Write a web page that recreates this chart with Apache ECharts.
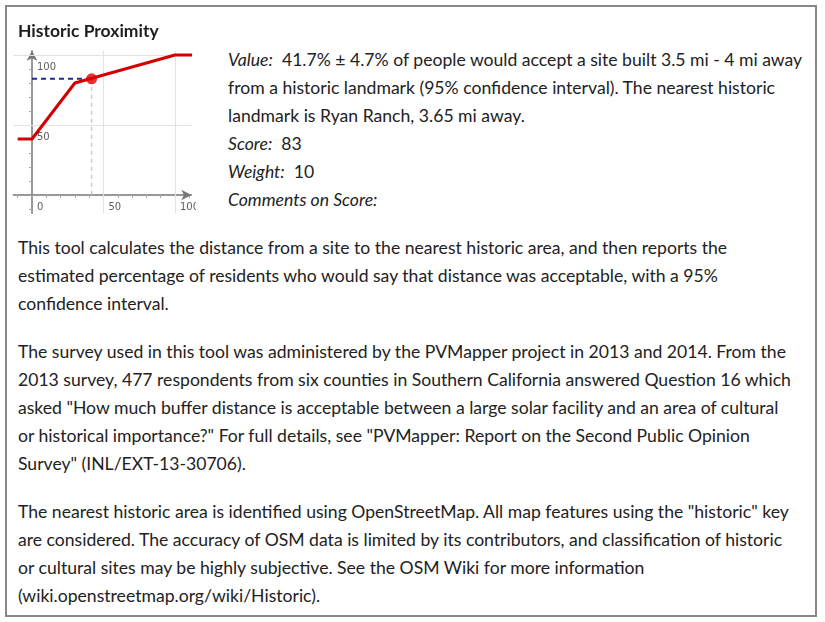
<!DOCTYPE html>
<html>
<head>
<meta charset="utf-8">
<script src="https://cdn.jsdelivr.net/npm/echarts@6.0.0/dist/echarts.min.js"></script>
<style>
  html, body { margin: 0; padding: 0; background: #fff; }
  body { width: 825px; height: 622px; position: relative; overflow: hidden;
         font-family: Lato, "Noto Sans", sans-serif; color: #222; }
  .frame { position: absolute; left: 5px; top: 5px; width: 812px; height: 612px;
           border: 2px solid #888; box-sizing: border-box; }
  #chart { position: absolute; left: 0; top: 0; width: 196px; height: 222px; }
  .title { position: absolute; left: 18px; top: 20px; font-size: 17.5px; font-weight: bold;
           line-height: 22px; color: #1e1e1e; }
  .txt { position: absolute; font-size: 17.6px; line-height: 28px; white-space: nowrap; }
  .info { left: 228px; top: 46px; }
  .p1 { left: 18px; top: 234px; }
  .p2 { left: 18px; top: 338px; }
  .p3 { left: 18px; top: 498px; }
</style>
</head>
<body>
<div class="frame"></div>
<div id="chart"></div>
<div class="title">Historic Proximity</div>
<div class="txt info" id="info"></div>
<div class="txt p1">This tool calculates the distance from a site to the nearest historic area, and then reports the<br>estimated percentage of residents who would say that distance was acceptable, with a 95%<br>confidence interval.</div>
<div class="txt p2">The survey used in this tool was administered by the PVMapper project in 2013 and 2014. From the<br>2013 survey, 477 respondents from six counties in Southern California answered Question 16 which<br>asked "How much buffer distance is acceptable between a large solar facility and an area of cultural<br>or historical importance?" For full details, see "PVMapper: Report on the Second Public Opinion<br>Survey" (INL/EXT-13-30706).</div>
<div class="txt p3">The nearest historic area is identified using OpenStreetMap. All map features using the "historic" key<br>are considered. The accuracy of OSM data is limited by its contributors, and classification of historic<br>or cultural sites may be highly subjective. See the OSM Wiki for more information<br>(wiki.openstreetmap.org/wiki/Historic).</div>
<script>
"use strict";
// score curve: % accepting -> score
var curveX = [-10, 0, 30, 100, 112];
var curveY = [40, 40, 80, 100, 100];
var valuePct = 41.7;
var valueErr = 4.7;
var score = 83;
var weight = 10;
var xTickLabels = [0, 50, 100];
var yTickLabels = [50, 100];
var gridValues = [50, 100];
var minorTicks = [-10, 0, 10, 20, 30, 40, 50, 60, 70, 80, 90, 100, 110];

document.getElementById("info").innerHTML =
    "<i>Value:</i>&nbsp; " + valuePct + "% ± " + valueErr + "% of people would accept a site built 3.5 mi - 4 mi away<br>" +
    "from a historic landmark (95% confidence interval). The nearest historic<br>" +
    "landmark is Ryan Ranch, 3.65 mi away.<br>" +
    "<i>Score:</i>&nbsp; " + score + "<br>" +
    "<i>Weight:</i>&nbsp; " + weight + "<br>" +
    "<i>Comments on Score:</i>";

var curveData = curveX.map(function (x, i) { return [x, curveY[i]]; });
var gridMarks = [];
gridValues.forEach(function (v) { gridMarks.push({xAxis: v}); gridMarks.push({yAxis: v}); });

var tickLabelStyle = { show: true, formatter: "{b}", fontSize: 10, color: "#333", fontFamily: "DejaVu Sans" };

var chart = echarts.init(document.getElementById("chart"));
chart.setOption({
    animation: false,
    grid: { left: 13.4, top: 50.8, width: 178, height: 162.4 },
    xAxis: {
        type: "value", min: -13, max: 111.5,
        axisLine: { onZero: true, symbol: ["none", "arrow"], symbolSize: [8, 10],
                    lineStyle: { color: "#777", width: 1.5 } },
        axisTick: { customValues: minorTicks, length: 3, lineStyle: { color: "#aaa" } },
        axisLabel: { show: false },
        splitLine: { show: false }
    },
    yAxis: {
        type: "value", min: -13, max: 103,
        axisLine: { onZero: true, symbol: ["none", "arrow"], symbolSize: [8, 10],
                    lineStyle: { color: "#777", width: 1.5 } },
        axisTick: { customValues: minorTicks, length: 3, lineStyle: { color: "#aaa" } },
        axisLabel: { show: false },
        splitLine: { show: false }
    },
    series: [
        {
            type: "line", data: curveData, symbol: "none", z: 5,
            lineStyle: { color: "#d40000", width: 3 },
            markLine: {
                silent: true, symbol: "none", label: { show: false },
                lineStyle: { color: "#e2e2e2", width: 1, type: "solid" },
                data: gridMarks, z: 1
            }
        },
        {
            type: "line", data: [[0, score], [valuePct, score]], symbol: "none", z: 4,
            lineStyle: { color: "#1c2a9c", width: 2, type: [5, 4] }
        },
        {
            type: "line", data: [[valuePct, score], [valuePct, 0]], symbol: "none", z: 3,
            lineStyle: { color: "#c8c8c8", width: 1.5, type: [4, 4] }
        },
        {
            type: "scatter", data: [[valuePct, score]], symbolSize: 11, z: 6,
            itemStyle: { color: "#e00000" }
        },
        {
            // tick labels sit right of and below their tick, as on the original board
            type: "scatter", silent: true, symbolSize: 0, z: 7,
            data: yTickLabels.map(function (v) { return { name: String(v), value: [0, v] }; })
                .concat(xTickLabels.map(function (v) { return { name: String(v), value: [v, 0] }; })),
            label: Object.assign({ position: [5, 7] }, tickLabelStyle)
        }
    ]
});
</script>
</body>
</html>
